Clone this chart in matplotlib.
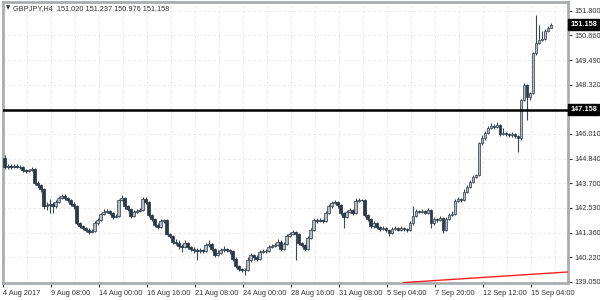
import numpy as np
import matplotlib.pyplot as plt
import matplotlib.transforms as mtransforms

# GBPJPY H4 candles (close / high / low), open = previous close
first_open = 144.90
closes = [
    144.45, 144.50, 144.45, 144.50, 144.48, 144.45, 144.30, 144.25, 144.30, 144.35,
    143.70, 143.60, 143.40, 142.60, 142.65, 142.70, 142.60, 142.80, 143.00, 143.10,
    143.00, 142.90, 142.70, 142.60, 141.80, 141.70, 141.60, 141.50, 141.40, 141.45,
    141.80, 141.95, 142.25, 142.35, 142.40, 142.30, 142.10, 142.15, 142.90, 143.00,
    142.60, 142.50, 142.15, 142.35, 142.40, 142.45, 142.95, 142.80, 142.20, 142.00,
    141.75, 141.65, 141.90, 141.95, 141.30, 141.20, 140.95, 140.90, 140.75, 140.70,
    140.90, 140.70, 140.60, 140.55, 140.50, 140.55, 140.50, 140.80, 140.85, 140.60,
    140.30, 140.40, 140.55, 140.60, 140.55, 140.50, 140.15, 139.80, 139.65, 139.60,
    139.60, 140.10, 140.30, 140.20, 140.15, 140.45, 140.50, 140.50, 140.70, 140.75,
    140.80, 140.95, 140.60, 140.85, 141.20, 141.30, 141.40, 141.30, 140.90, 140.80,
    140.60, 141.10, 141.50, 141.95, 141.90, 141.95, 141.90, 142.30, 142.60, 142.75,
    142.80, 142.65, 142.30, 142.10, 142.35, 142.45, 142.30, 142.85, 142.90, 142.90,
    142.20, 142.00, 141.70, 141.80, 141.65, 141.55, 141.60, 141.50, 141.35, 141.55,
    141.60, 141.50, 141.60, 141.55, 141.50, 141.80, 142.15, 142.40, 142.35, 142.40,
    142.30, 142.45, 141.80, 142.00, 141.95, 142.05, 141.50, 142.00, 142.20, 142.25,
    142.85, 142.95, 142.90, 143.30, 143.50, 143.75, 144.00, 144.10, 145.60, 145.80,
    146.05, 146.30, 146.40, 146.35, 146.45, 146.00, 146.05, 146.00, 145.95, 146.00,
    145.90, 145.80, 147.60, 148.30, 147.75, 147.95, 149.80, 150.30, 150.45, 150.50,
    150.85, 151.02, 151.158,
]
highs = [
    145.00, 144.60, 144.58, 144.60, 144.58, 144.55, 144.50, 144.38, 144.38, 144.45,
    144.40, 143.80, 143.65, 143.45, 142.80, 142.95, 142.80, 142.90, 143.10, 143.20,
    143.20, 143.05, 142.95, 142.80, 142.65, 141.85, 141.75, 141.65, 141.60, 141.55,
    141.90, 142.05, 142.30, 142.50, 142.50, 142.45, 142.35, 142.25, 142.95, 143.15,
    143.05, 142.65, 142.55, 142.45, 142.50, 142.55, 143.05, 143.05, 142.85, 142.25,
    142.05, 141.80, 142.00, 142.00, 142.00, 141.35, 141.25, 141.05, 141.00, 140.85,
    141.00, 140.95, 140.75, 140.70, 140.65, 140.65, 140.60, 140.90, 141.00, 140.90,
    140.65, 140.55, 140.65, 140.75, 140.65, 140.60, 140.55, 140.20, 139.85, 139.70,
    139.70, 140.20, 140.40, 140.35, 140.30, 140.55, 140.60, 140.60, 140.80, 140.85,
    140.90, 141.05, 141.00, 140.95, 141.30, 141.40, 141.50, 141.45, 141.35, 140.95,
    140.85, 141.20, 141.60, 142.05, 142.05, 142.05, 142.00, 142.40, 142.70, 142.85,
    142.90, 142.85, 142.70, 142.35, 142.45, 142.55, 142.50, 143.00, 143.00, 142.95,
    142.95, 142.25, 142.05, 141.90, 141.85, 141.70, 141.70, 141.65, 141.55, 141.65,
    141.70, 141.65, 141.70, 141.65, 141.60, 141.90, 142.60, 142.50, 142.45, 142.50,
    142.45, 142.55, 142.50, 142.10, 142.05, 142.15, 142.10, 142.10, 142.30, 142.40,
    142.95, 143.05, 143.00, 143.40, 143.60, 143.85, 144.10, 144.15, 145.65, 145.95,
    146.15, 146.40, 146.55, 146.50, 146.58, 146.50, 146.30, 146.10, 146.05, 146.10,
    146.05, 145.95, 147.65, 148.40, 148.35, 148.00, 149.85, 151.61, 151.14, 150.85,
    150.95, 151.10, 151.237,
]
lows = [
    144.35, 144.38, 144.38, 144.40, 144.40, 144.35, 144.22, 144.18, 144.20, 144.25,
    143.62, 143.45, 143.30, 142.50, 142.45, 142.30, 142.30, 142.55, 142.75, 142.95,
    142.90, 142.80, 142.60, 142.50, 141.75, 141.60, 141.50, 141.40, 141.30, 141.35,
    141.40, 141.75, 141.90, 142.20, 142.30, 142.20, 142.00, 142.05, 142.10, 142.85,
    142.50, 142.40, 142.05, 142.10, 142.30, 142.35, 142.40, 142.70, 142.10, 141.90,
    141.65, 141.55, 141.60, 141.80, 141.25, 141.10, 140.85, 140.80, 140.60, 140.45,
    140.65, 140.60, 140.50, 140.40, 140.10, 140.40, 140.40, 140.45, 140.70, 140.50,
    140.20, 140.25, 140.35, 140.45, 140.45, 140.35, 140.05, 139.70, 139.55, 139.50,
    139.38, 139.55, 140.00, 140.10, 140.05, 140.10, 140.40, 140.40, 140.45, 140.65,
    140.70, 140.75, 140.50, 140.55, 140.80, 141.15, 141.25, 140.10, 140.80, 140.70,
    140.50, 140.55, 141.05, 141.45, 141.80, 141.85, 141.80, 141.85, 142.25, 142.55,
    142.70, 142.55, 142.20, 141.60, 142.05, 142.30, 142.20, 142.25, 142.80, 142.85,
    142.10, 141.90, 141.60, 141.60, 141.55, 141.45, 141.50, 141.40, 141.20, 141.30,
    141.50, 141.45, 141.45, 141.45, 141.40, 141.45, 141.75, 142.10, 142.30, 142.30,
    142.25, 142.25, 141.60, 141.75, 141.85, 141.90, 141.35, 141.45, 141.95, 142.15,
    142.20, 142.80, 142.80, 142.85, 143.25, 143.45, 143.70, 143.95, 144.05, 145.50,
    145.75, 146.00, 146.25, 146.25, 146.30, 145.90, 145.95, 145.90, 145.85, 145.85,
    145.80, 145.17, 145.75, 147.55, 146.67, 147.60, 147.90, 149.75, 150.25, 150.40,
    150.45, 150.80, 150.976,
]

price_ticks = [139.050, 140.220, 141.360, 142.530, 143.700, 144.840,
               146.010, 148.320, 149.490, 150.660, 151.800]
date_labels = ["4 Aug 2017", "9 Aug 08:00", "14 Aug 00:00", "16 Aug 16:00",
               "21 Aug 08:00", "24 Aug 00:00", "28 Aug 16:00", "31 Aug 08:00",
               "5 Sep 04:00", "7 Sep 20:00", "12 Sep 12:00", "15 Sep 04:00"]

level_price = 147.158
last_price = 151.158
trend_x = [133, 188]
trend_y = [139.02, 139.52]

header = "GBPJPY,H4  151.020 151.237 150.976 151.158"

plt.rcParams['font.family'] = ['Liberation Sans', 'DejaVu Sans']

c = np.array(closes)
o = np.array([first_open] + closes[:-1])
h = np.array(highs)
l = np.array(lows)
x = np.arange(len(c))
up = c >= o

fig = plt.figure(figsize=(6, 3), dpi=100)
ax = fig.add_axes([0.005, 0.0567, 0.9417, 0.9366])

# grid
for gx in np.arange(7.5, 190, 8):
    ax.axvline(gx, color='#e6e6e6', lw=0.6, ls=(0, (3, 3)), zorder=0)
for gy in price_ticks:
    ax.axhline(gy, color='#e6e6e6', lw=0.6, ls=(0, (3, 3)), zorder=0)

# candles
ax.vlines(x, l, h, color='#3a4754', lw=0.8, zorder=2)
ax.bar(x[up], (c - o)[up], bottom=o[up], width=0.72,
       color='#b4bdc6', edgecolor='#3a4754', lw=0.55, zorder=3)
ax.bar(x[~up], (o - c)[~up], bottom=c[~up], width=0.72,
       color='#2b3948', edgecolor='#2b3948', lw=0.55, zorder=3)

# horizontal level + trendline
ax.axhline(level_price, color='black', lw=1.8, zorder=4)
ax.plot(trend_x, trend_y, color='#ff2020', lw=1.0, zorder=4)

ax.set_xlim(-0.5, 187.8)
ax.set_ylim(139.0, 152.22)

ax.yaxis.tick_right()
ax.set_yticks(price_ticks)
ax.set_yticklabels([f"{p:.3f}" for p in price_ticks])
ax.set_xticks(np.arange(len(date_labels)) * 16 - 0.5)
ax.set_xticklabels(date_labels, ha='left')
ax.tick_params(axis='both', labelsize=5.3, colors='#333333', length=3,
               width=0.8, pad=1.5)
ax.tick_params(axis='x', pad=2)

for s in ax.spines.values():
    s.set_color('#a9adb1')
    s.set_linewidth(2)

# price boxes on the right scale
tr = mtransforms.blended_transform_factory(ax.transAxes, ax.transData)
for p in (last_price, level_price):
    ax.text(1.004, p, f"{p:.3f}", transform=tr, fontsize=5.3, color='white',
            fontweight='bold', va='center', ha='left', clip_on=False,
            bbox=dict(facecolor='black', edgecolor='black', pad=1.3))

fig.text(0.01, 0.973, "\u25bc", fontsize=4, color='#333333', va='center',
         family=['DejaVu Sans'])
fig.text(0.022, 0.973, header, fontsize=5.3, color='#333333', va='center')

fig.savefig("out.png", dpi=100, facecolor='white')
